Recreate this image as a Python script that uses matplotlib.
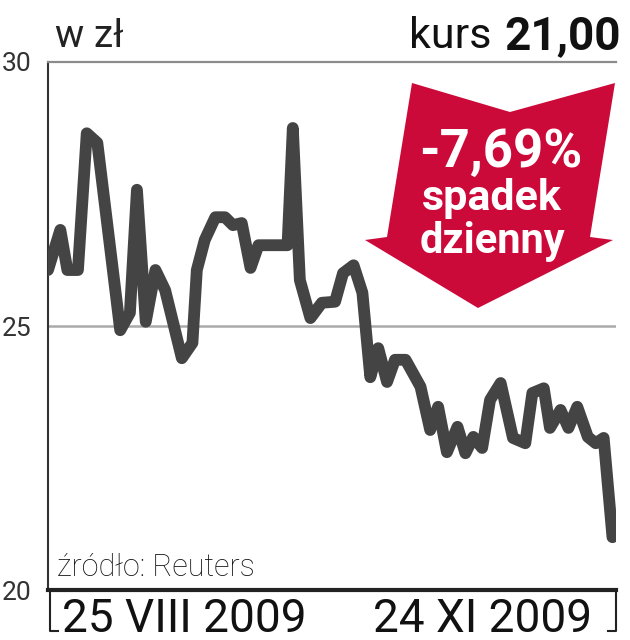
import numpy as np
import matplotlib
matplotlib.use("Agg")
import matplotlib.pyplot as plt
import matplotlib.transforms as mtransforms
from matplotlib.patches import Polygon
from matplotlib.lines import Line2D

# --------------------------------------------------------------------------- #
# kurs akcji, sesje od 25 VIII 2009 do 24 XI 2009 (odczyt z wykresu)
day = [0, 1.4, 2.2, 3.4, 4.4, 5.6, 8.2, 9.3, 10.1, 11.1, 12.2, 13.3, 15.2,
       16.4, 16.9, 17.8, 19.0, 20.1, 21.0, 22.0, 23.0, 23.9, 27.2, 27.8,
       28.6, 29.8, 31.1, 32.6, 33.5, 34.7, 35.7, 36.6, 37.5, 38.5, 39.4,
       40.6, 42.3, 43.4, 44.3, 45.3, 46.5, 47.4, 48.3, 49.3, 50.2, 51.4,
       52.8, 54.2, 55.0, 56.3, 57.0, 58.2, 59.1, 60.1, 61.3, 62.2, 63.1,
       64.1]
price = [26.06, 26.82, 26.06, 26.06, 28.65, 28.47, 24.92, 25.25, 27.58,
         25.08, 26.06, 25.68, 24.39, 24.68, 26.06, 26.63, 27.06, 27.06,
         26.91, 26.95, 26.10, 26.53, 26.53, 28.75, 25.87, 25.15, 25.44,
         25.46, 26.00, 26.15, 25.63, 24.03, 24.58, 23.94, 24.36, 24.36,
         23.85, 23.03, 23.47, 22.61, 23.09, 22.59, 22.90, 22.69, 23.60,
         23.92, 22.88, 22.78, 23.73, 23.82, 23.07, 23.41, 23.07, 23.47,
         22.90, 22.78, 22.88, 21.00]

yticks = [20, 25, 30]
date_first = "25 VIII 2009"
date_last = "24 XI 2009"
change = "-7,69%"
last_price = "21,00"

plt.rcParams["font.family"] = ["Roboto", "DejaVu Sans"]

W, H = 630, 640
fig = plt.figure(figsize=(W / 100, H / 100), dpi=100)
px = mtransforms.Affine2D().scale(1 / W, -1 / H).translate(0, 1) + fig.transFigure

ax = fig.add_axes([48 / W, 1 - 590 / H, 568 / W, 528 / H])
ax.set_xlim(0, 64.5)
ax.set_ylim(20, 30)

ax.axhline(25, color="#aaaaaa", lw=1.8, zorder=1)
ax.plot(day, price, color="#444444", lw=8.5, solid_capstyle="round",
        solid_joinstyle="round", zorder=3)

ax.spines["right"].set_visible(False)
ax.spines["top"].set_color("#8c8c8c")
ax.spines["top"].set_linewidth(1.6)
ax.spines["left"].set_color("#333333")
ax.spines["left"].set_linewidth(1.5)
ax.spines["bottom"].set_color("#222222")
ax.spines["bottom"].set_linewidth(3)

ax.set_xticks([])
ax.set_yticks(yticks)
ax.tick_params(axis="y", length=0, pad=12, labelsize=19, labelcolor="#333333")

# brackets under the axis
for xs in ([50, 50, 58], [616, 616, 608]):
    fig.add_artist(Line2D(xs, [591, 631, 631], transform=px, color="#222222",
                          lw=1.5))

# red arrow
arrow = [(412, 83), (510, 112), (615, 83), (590, 237), (613, 240),
         (478, 308), (365, 240), (387, 237)]
fig.add_artist(Polygon(arrow, closed=True, transform=px, facecolor="#cc0a3a",
                       edgecolor="none", zorder=5))

fig.text(501, 167, change, transform=px, ha="center", va="baseline",
         fontsize=38, fontweight="bold", color="white", zorder=6)
fig.text(492, 210, "spadek", transform=px, ha="center", va="baseline",
         fontsize=31, fontweight="bold", color="white", zorder=6)
fig.text(492, 253, "dzienny", transform=px, ha="center", va="baseline",
         fontsize=30, fontweight="bold", color="white", zorder=6)

# header
fig.text(55, 47, "w zł", transform=px, ha="left", va="baseline",
         fontsize=28, color="#222222")
fig.text(492, 48, "kurs", transform=px, ha="right", va="baseline",
         fontsize=31, color="#111111")
fig.text(621, 49, last_price, transform=px, ha="right", va="baseline",
         fontsize=33, fontweight="bold", color="#111111")

# footer
fig.text(57, 576, "źródło: Reuters", transform=px, ha="left", va="baseline",
         fontsize=22, fontweight="light", color="#111111")
fig.text(62, 632, date_first, transform=px, ha="left", va="baseline",
         fontsize=33, color="#111111")
fig.text(592, 632, date_last, transform=px, ha="right", va="baseline",
         fontsize=33, color="#111111")

fig.savefig("out.png", dpi=100)
